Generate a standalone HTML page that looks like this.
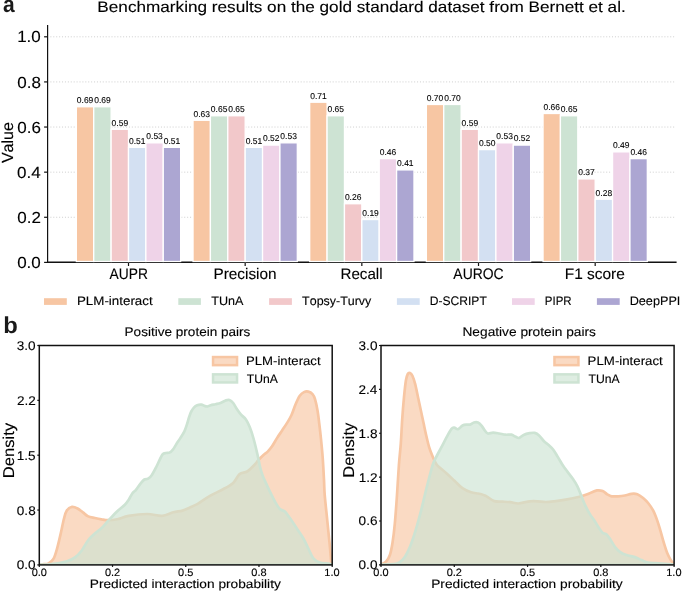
<!DOCTYPE html>
<html><head><meta charset="utf-8"><style>
html,body{margin:0;padding:0;background:#fff;width:685px;height:591px;overflow:hidden}
svg{display:block}
text{font-family:"Liberation Sans",sans-serif;font-kerning:none}
svg{will-change:transform;text-rendering:geometricPrecision}
</style></head><body>
<svg width="685" height="591" viewBox="0 0 685 591">
<defs><clipPath id="c1"><rect x="39.30" y="345.50" width="292.90" height="219.40"/></clipPath>
<clipPath id="c2"><rect x="381.00" y="345.50" width="293.10" height="219.40"/></clipPath></defs>
<rect width="685" height="591" fill="#fff"/>
<line x1="50.40" y1="217.28" x2="675.90" y2="217.28" stroke="#c9c9c9" stroke-width="0.9" stroke-dasharray="1 1.91"/>
<line x1="50.40" y1="172.16" x2="675.90" y2="172.16" stroke="#c9c9c9" stroke-width="0.9" stroke-dasharray="1 1.91"/>
<line x1="50.40" y1="127.04" x2="675.90" y2="127.04" stroke="#c9c9c9" stroke-width="0.9" stroke-dasharray="1 1.91"/>
<line x1="50.40" y1="81.92" x2="675.90" y2="81.92" stroke="#c9c9c9" stroke-width="0.9" stroke-dasharray="1 1.91"/>
<line x1="50.40" y1="36.80" x2="675.90" y2="36.80" stroke="#c9c9c9" stroke-width="0.9" stroke-dasharray="1 1.91"/>
<line x1="47.60" y1="25.10" x2="47.60" y2="263.00" stroke="#111" stroke-width="1.2"/>
<line x1="47.00" y1="262.20" x2="676.60" y2="262.20" stroke="#111" stroke-width="1.4"/>
<line x1="44.1" y1="262.40" x2="47.60" y2="262.40" stroke="#111" stroke-width="1.2"/>
<line x1="44.1" y1="217.28" x2="47.60" y2="217.28" stroke="#111" stroke-width="1.2"/>
<line x1="44.1" y1="172.16" x2="47.60" y2="172.16" stroke="#111" stroke-width="1.2"/>
<line x1="44.1" y1="127.04" x2="47.60" y2="127.04" stroke="#111" stroke-width="1.2"/>
<line x1="44.1" y1="81.92" x2="47.60" y2="81.92" stroke="#111" stroke-width="1.2"/>
<line x1="44.1" y1="36.80" x2="47.60" y2="36.80" stroke="#111" stroke-width="1.2"/>
<line x1="128.50" y1="262.40" x2="128.50" y2="266.00" stroke="#111" stroke-width="1.2"/>
<line x1="245.17" y1="262.40" x2="245.17" y2="266.00" stroke="#111" stroke-width="1.2"/>
<line x1="361.84" y1="262.40" x2="361.84" y2="266.00" stroke="#111" stroke-width="1.2"/>
<line x1="478.51" y1="262.40" x2="478.51" y2="266.00" stroke="#111" stroke-width="1.2"/>
<line x1="595.18" y1="262.40" x2="595.18" y2="266.00" stroke="#111" stroke-width="1.2"/>
<rect x="76.36" y="106.74" width="17.38" height="154.76" fill="#F7C6A3" stroke="#fff" stroke-width="1.3"/>
<rect x="93.74" y="106.74" width="17.38" height="154.76" fill="#CDE3D3" stroke="#fff" stroke-width="1.3"/>
<rect x="111.12" y="129.30" width="17.38" height="132.20" fill="#F2C8CA" stroke="#fff" stroke-width="1.3"/>
<rect x="128.50" y="147.34" width="17.38" height="114.16" fill="#D3E0F2" stroke="#fff" stroke-width="1.3"/>
<rect x="145.88" y="142.83" width="17.38" height="118.67" fill="#EFD3E8" stroke="#fff" stroke-width="1.3"/>
<rect x="163.26" y="147.34" width="17.38" height="114.16" fill="#ACA6D2" stroke="#fff" stroke-width="1.3"/>
<rect x="193.03" y="120.27" width="17.38" height="141.23" fill="#F7C6A3" stroke="#fff" stroke-width="1.3"/>
<rect x="210.41" y="115.76" width="17.38" height="145.74" fill="#CDE3D3" stroke="#fff" stroke-width="1.3"/>
<rect x="227.79" y="115.76" width="17.38" height="145.74" fill="#F2C8CA" stroke="#fff" stroke-width="1.3"/>
<rect x="245.17" y="147.34" width="17.38" height="114.16" fill="#D3E0F2" stroke="#fff" stroke-width="1.3"/>
<rect x="262.55" y="145.09" width="17.38" height="116.41" fill="#EFD3E8" stroke="#fff" stroke-width="1.3"/>
<rect x="279.93" y="142.83" width="17.38" height="118.67" fill="#ACA6D2" stroke="#fff" stroke-width="1.3"/>
<rect x="309.70" y="102.22" width="17.38" height="159.28" fill="#F7C6A3" stroke="#fff" stroke-width="1.3"/>
<rect x="327.08" y="115.76" width="17.38" height="145.74" fill="#CDE3D3" stroke="#fff" stroke-width="1.3"/>
<rect x="344.46" y="203.74" width="17.38" height="57.76" fill="#F2C8CA" stroke="#fff" stroke-width="1.3"/>
<rect x="361.84" y="219.54" width="17.38" height="41.96" fill="#D3E0F2" stroke="#fff" stroke-width="1.3"/>
<rect x="379.22" y="158.62" width="17.38" height="102.88" fill="#EFD3E8" stroke="#fff" stroke-width="1.3"/>
<rect x="396.60" y="169.90" width="17.38" height="91.60" fill="#ACA6D2" stroke="#fff" stroke-width="1.3"/>
<rect x="426.37" y="104.48" width="17.38" height="157.02" fill="#F7C6A3" stroke="#fff" stroke-width="1.3"/>
<rect x="443.75" y="104.48" width="17.38" height="157.02" fill="#CDE3D3" stroke="#fff" stroke-width="1.3"/>
<rect x="461.13" y="129.30" width="17.38" height="132.20" fill="#F2C8CA" stroke="#fff" stroke-width="1.3"/>
<rect x="478.51" y="149.60" width="17.38" height="111.90" fill="#D3E0F2" stroke="#fff" stroke-width="1.3"/>
<rect x="495.89" y="142.83" width="17.38" height="118.67" fill="#EFD3E8" stroke="#fff" stroke-width="1.3"/>
<rect x="513.27" y="145.09" width="17.38" height="116.41" fill="#ACA6D2" stroke="#fff" stroke-width="1.3"/>
<rect x="543.04" y="113.50" width="17.38" height="148.00" fill="#F7C6A3" stroke="#fff" stroke-width="1.3"/>
<rect x="560.42" y="115.76" width="17.38" height="145.74" fill="#CDE3D3" stroke="#fff" stroke-width="1.3"/>
<rect x="577.80" y="178.93" width="17.38" height="82.57" fill="#F2C8CA" stroke="#fff" stroke-width="1.3"/>
<rect x="595.18" y="199.23" width="17.38" height="62.27" fill="#D3E0F2" stroke="#fff" stroke-width="1.3"/>
<rect x="612.56" y="151.86" width="17.38" height="109.64" fill="#EFD3E8" stroke="#fff" stroke-width="1.3"/>
<rect x="629.94" y="158.62" width="17.38" height="102.88" fill="#ACA6D2" stroke="#fff" stroke-width="1.3"/>
<text x="76.82" y="103.14" font-size="8.50" font-weight="normal" fill="#000" stroke="#000" stroke-width="0.10" textLength="16.53" lengthAdjust="spacingAndGlyphs" >0.69</text>
<text x="94.20" y="103.14" font-size="8.50" font-weight="normal" fill="#000" stroke="#000" stroke-width="0.10" textLength="16.53" lengthAdjust="spacingAndGlyphs" >0.69</text>
<text x="111.58" y="125.70" font-size="8.50" font-weight="normal" fill="#000" stroke="#000" stroke-width="0.10" textLength="16.53" lengthAdjust="spacingAndGlyphs" >0.59</text>
<text x="128.96" y="143.74" font-size="8.50" font-weight="normal" fill="#000" stroke="#000" stroke-width="0.10" textLength="16.53" lengthAdjust="spacingAndGlyphs" >0.51</text>
<text x="146.32" y="139.23" font-size="8.50" font-weight="normal" fill="#000" stroke="#000" stroke-width="0.10" textLength="16.53" lengthAdjust="spacingAndGlyphs" >0.53</text>
<text x="163.72" y="143.74" font-size="8.50" font-weight="normal" fill="#000" stroke="#000" stroke-width="0.10" textLength="16.53" lengthAdjust="spacingAndGlyphs" >0.51</text>
<text x="193.47" y="116.67" font-size="8.50" font-weight="normal" fill="#000" stroke="#000" stroke-width="0.10" textLength="16.53" lengthAdjust="spacingAndGlyphs" >0.63</text>
<text x="210.85" y="112.16" font-size="8.50" font-weight="normal" fill="#000" stroke="#000" stroke-width="0.10" textLength="16.53" lengthAdjust="spacingAndGlyphs" >0.65</text>
<text x="228.23" y="112.16" font-size="8.50" font-weight="normal" fill="#000" stroke="#000" stroke-width="0.10" textLength="16.53" lengthAdjust="spacingAndGlyphs" >0.65</text>
<text x="245.63" y="143.74" font-size="8.50" font-weight="normal" fill="#000" stroke="#000" stroke-width="0.10" textLength="16.53" lengthAdjust="spacingAndGlyphs" >0.51</text>
<text x="263.02" y="141.49" font-size="8.50" font-weight="normal" fill="#000" stroke="#000" stroke-width="0.10" textLength="16.53" lengthAdjust="spacingAndGlyphs" >0.52</text>
<text x="280.37" y="139.23" font-size="8.50" font-weight="normal" fill="#000" stroke="#000" stroke-width="0.10" textLength="16.53" lengthAdjust="spacingAndGlyphs" >0.53</text>
<text x="310.16" y="98.62" font-size="8.50" font-weight="normal" fill="#000" stroke="#000" stroke-width="0.10" textLength="16.53" lengthAdjust="spacingAndGlyphs" >0.71</text>
<text x="327.52" y="112.16" font-size="8.50" font-weight="normal" fill="#000" stroke="#000" stroke-width="0.10" textLength="16.53" lengthAdjust="spacingAndGlyphs" >0.65</text>
<text x="344.90" y="200.14" font-size="8.50" font-weight="normal" fill="#000" stroke="#000" stroke-width="0.10" textLength="16.53" lengthAdjust="spacingAndGlyphs" >0.26</text>
<text x="362.30" y="215.94" font-size="8.50" font-weight="normal" fill="#000" stroke="#000" stroke-width="0.10" textLength="16.53" lengthAdjust="spacingAndGlyphs" >0.19</text>
<text x="379.66" y="155.02" font-size="8.50" font-weight="normal" fill="#000" stroke="#000" stroke-width="0.10" textLength="16.53" lengthAdjust="spacingAndGlyphs" >0.46</text>
<text x="397.06" y="166.30" font-size="8.50" font-weight="normal" fill="#000" stroke="#000" stroke-width="0.10" textLength="16.53" lengthAdjust="spacingAndGlyphs" >0.41</text>
<text x="426.79" y="100.88" font-size="8.50" font-weight="normal" fill="#000" stroke="#000" stroke-width="0.10" textLength="16.53" lengthAdjust="spacingAndGlyphs" >0.70</text>
<text x="444.17" y="100.88" font-size="8.50" font-weight="normal" fill="#000" stroke="#000" stroke-width="0.10" textLength="16.53" lengthAdjust="spacingAndGlyphs" >0.70</text>
<text x="461.59" y="125.70" font-size="8.50" font-weight="normal" fill="#000" stroke="#000" stroke-width="0.10" textLength="16.53" lengthAdjust="spacingAndGlyphs" >0.59</text>
<text x="478.93" y="146.00" font-size="8.50" font-weight="normal" fill="#000" stroke="#000" stroke-width="0.10" textLength="16.53" lengthAdjust="spacingAndGlyphs" >0.50</text>
<text x="496.33" y="139.23" font-size="8.50" font-weight="normal" fill="#000" stroke="#000" stroke-width="0.10" textLength="16.53" lengthAdjust="spacingAndGlyphs" >0.53</text>
<text x="513.74" y="141.49" font-size="8.50" font-weight="normal" fill="#000" stroke="#000" stroke-width="0.10" textLength="16.53" lengthAdjust="spacingAndGlyphs" >0.52</text>
<text x="543.48" y="109.90" font-size="8.50" font-weight="normal" fill="#000" stroke="#000" stroke-width="0.10" textLength="16.53" lengthAdjust="spacingAndGlyphs" >0.66</text>
<text x="560.86" y="112.16" font-size="8.50" font-weight="normal" fill="#000" stroke="#000" stroke-width="0.10" textLength="16.53" lengthAdjust="spacingAndGlyphs" >0.65</text>
<text x="578.27" y="175.33" font-size="8.50" font-weight="normal" fill="#000" stroke="#000" stroke-width="0.10" textLength="16.53" lengthAdjust="spacingAndGlyphs" >0.37</text>
<text x="595.62" y="195.63" font-size="8.50" font-weight="normal" fill="#000" stroke="#000" stroke-width="0.10" textLength="16.53" lengthAdjust="spacingAndGlyphs" >0.28</text>
<text x="613.02" y="148.26" font-size="8.50" font-weight="normal" fill="#000" stroke="#000" stroke-width="0.10" textLength="16.53" lengthAdjust="spacingAndGlyphs" >0.49</text>
<text x="630.38" y="155.02" font-size="8.50" font-weight="normal" fill="#000" stroke="#000" stroke-width="0.10" textLength="16.53" lengthAdjust="spacingAndGlyphs" >0.46</text>
<text x="17.15" y="268.00" font-size="16.10" font-weight="normal" fill="#000" stroke="#000" stroke-width="0.12" textLength="23.61" lengthAdjust="spacingAndGlyphs" >0.0</text>
<text x="17.34" y="222.88" font-size="16.10" font-weight="normal" fill="#000" stroke="#000" stroke-width="0.12" textLength="23.61" lengthAdjust="spacingAndGlyphs" >0.2</text>
<text x="16.99" y="177.76" font-size="16.10" font-weight="normal" fill="#000" stroke="#000" stroke-width="0.12" textLength="23.61" lengthAdjust="spacingAndGlyphs" >0.4</text>
<text x="17.24" y="132.64" font-size="16.10" font-weight="normal" fill="#000" stroke="#000" stroke-width="0.12" textLength="23.61" lengthAdjust="spacingAndGlyphs" >0.6</text>
<text x="17.23" y="87.52" font-size="16.10" font-weight="normal" fill="#000" stroke="#000" stroke-width="0.12" textLength="23.61" lengthAdjust="spacingAndGlyphs" >0.8</text>
<text x="17.15" y="42.40" font-size="16.10" font-weight="normal" fill="#000" stroke="#000" stroke-width="0.12" textLength="23.61" lengthAdjust="spacingAndGlyphs" >1.0</text>
<text transform="translate(13.00 163.07) rotate(-90)" x="0" y="0" font-size="16.10" font-weight="normal" fill="#000" stroke="#000" stroke-width="0.12" textLength="40.88" lengthAdjust="spacingAndGlyphs">Value</text>
<text x="109.57" y="279.40" font-size="15.30" font-weight="normal" fill="#000" stroke="#000" stroke-width="0.12" textLength="38.37" lengthAdjust="spacingAndGlyphs" >AUPR</text>
<text x="213.44" y="279.40" font-size="15.30" font-weight="normal" fill="#000" stroke="#000" stroke-width="0.12" textLength="63.16" lengthAdjust="spacingAndGlyphs" >Precision</text>
<text x="340.46" y="279.40" font-size="15.30" font-weight="normal" fill="#000" stroke="#000" stroke-width="0.12" textLength="42.16" lengthAdjust="spacingAndGlyphs" >Recall</text>
<text x="453.37" y="279.40" font-size="15.30" font-weight="normal" fill="#000" stroke="#000" stroke-width="0.12" textLength="50.26" lengthAdjust="spacingAndGlyphs" >AUROC</text>
<text x="564.73" y="279.40" font-size="15.30" font-weight="normal" fill="#000" stroke="#000" stroke-width="0.12" textLength="60.16" lengthAdjust="spacingAndGlyphs" >F1 score</text>
<text x="97.39" y="11.60" font-size="15.30" font-weight="normal" fill="#000" stroke="#000" stroke-width="0.12" textLength="528.37" lengthAdjust="spacingAndGlyphs" >Benchmarking results on the gold standard dataset from Bernett et al.</text>
<text x="2.88" y="12.30" font-size="23.00" font-weight="bold" fill="#1a1a1a" stroke="#1a1a1a" stroke-width="0.00" textLength="11.68" lengthAdjust="spacingAndGlyphs" >a</text>
<rect x="44.00" y="298.2" width="22.80" height="6.7" fill="#F7C6A3"/>
<text x="76.90" y="305.40" font-size="12.40" font-weight="normal" fill="#000" stroke="#000" stroke-width="0.12" textLength="75.79" lengthAdjust="spacingAndGlyphs" >PLM-interact</text>
<rect x="178.30" y="298.2" width="22.60" height="6.7" fill="#CDE3D3"/>
<text x="211.32" y="305.40" font-size="12.40" font-weight="normal" fill="#000" stroke="#000" stroke-width="0.12" textLength="32.21" lengthAdjust="spacingAndGlyphs" >TUnA</text>
<rect x="269.10" y="298.2" width="22.80" height="6.7" fill="#F2C8CA"/>
<text x="302.12" y="305.40" font-size="12.40" font-weight="normal" fill="#000" stroke="#000" stroke-width="0.12" textLength="69.20" lengthAdjust="spacingAndGlyphs" >Topsy-Turvy</text>
<rect x="396.90" y="298.2" width="22.80" height="6.7" fill="#D3E0F2"/>
<text x="429.81" y="305.40" font-size="12.40" font-weight="normal" fill="#000" stroke="#000" stroke-width="0.12" textLength="56.97" lengthAdjust="spacingAndGlyphs" >D-SCRIPT</text>
<rect x="512.00" y="298.2" width="22.70" height="6.7" fill="#EFD3E8"/>
<text x="544.86" y="305.40" font-size="12.40" font-weight="normal" fill="#000" stroke="#000" stroke-width="0.12" textLength="26.77" lengthAdjust="spacingAndGlyphs" >PIPR</text>
<rect x="596.90" y="298.2" width="22.80" height="6.7" fill="#ACA6D2"/>
<text x="629.66" y="305.40" font-size="12.40" font-weight="normal" fill="#000" stroke="#000" stroke-width="0.12" textLength="50.71" lengthAdjust="spacingAndGlyphs" >DeepPPI</text>
<text x="3.23" y="333.00" font-size="23.00" font-weight="bold" fill="#1a1a1a" stroke="#1a1a1a" stroke-width="0.00" textLength="14.55" lengthAdjust="spacingAndGlyphs" >b</text>
<path d="M39.30 564.60 C40.08 564.53 42.45 564.42 44.00 564.20 C45.55 563.98 47.00 564.23 48.60 563.30 C50.20 562.37 52.17 561.13 53.60 558.60 C55.03 556.07 56.02 552.27 57.20 548.10 C58.38 543.93 59.58 538.45 60.70 533.60 C61.82 528.75 62.88 522.85 63.90 519.00 C64.92 515.15 65.45 512.52 66.80 510.50 C68.15 508.48 70.20 507.23 72.00 506.90 C73.80 506.57 75.78 507.58 77.60 508.50 C79.42 509.42 81.13 511.08 82.90 512.40 C84.67 513.72 86.22 515.47 88.20 516.40 C90.18 517.33 92.60 517.52 94.80 518.00 C97.00 518.48 99.20 518.93 101.40 519.30 C103.60 519.67 105.37 520.20 108.00 520.20 C110.63 520.20 113.77 520.03 117.20 519.30 C120.63 518.57 123.60 516.68 128.60 515.80 C133.60 514.92 141.62 514.00 147.20 514.00 C152.78 514.00 157.75 516.08 162.10 515.80 C166.45 515.52 169.88 513.17 173.30 512.30 C176.72 511.43 179.82 511.42 182.60 510.60 C185.38 509.78 187.48 508.52 190.00 507.40 C192.52 506.28 194.30 505.87 197.70 503.90 C201.10 501.93 206.17 498.03 210.40 495.60 C214.63 493.17 219.30 491.42 223.10 489.30 C226.90 487.18 230.45 485.43 233.20 482.90 C235.95 480.37 237.27 476.00 239.60 474.10 C241.93 472.20 244.67 473.10 247.20 471.50 C249.73 469.90 252.93 466.40 254.80 464.50 C256.67 462.60 256.95 461.68 258.40 460.10 C259.85 458.52 261.95 456.42 263.50 455.00 C265.05 453.58 266.30 453.00 267.70 451.60 C269.10 450.20 270.35 448.85 271.90 446.60 C273.45 444.35 275.30 440.78 277.00 438.10 C278.70 435.42 280.42 433.03 282.10 430.50 C283.78 427.97 285.55 425.43 287.10 422.90 C288.65 420.37 289.98 418.40 291.40 415.30 C292.82 412.20 294.20 407.55 295.60 404.30 C297.00 401.05 298.40 397.83 299.80 395.80 C301.20 393.77 302.58 392.80 304.00 392.10 C305.42 391.40 306.88 391.27 308.30 391.60 C309.72 391.93 311.38 392.83 312.50 394.10 C313.62 395.37 314.15 396.38 315.00 399.20 C315.85 402.02 316.88 406.87 317.60 411.00 C318.32 415.13 318.73 419.30 319.30 424.00 C319.87 428.70 320.43 433.57 321.00 439.20 C321.57 444.83 322.20 451.00 322.70 457.80 C323.20 464.60 323.67 473.82 324.00 480.00 C324.33 486.18 324.17 488.27 324.70 494.90 C325.23 501.53 326.37 511.50 327.20 519.80 C328.03 528.10 329.02 537.50 329.70 544.70 C330.38 551.90 330.97 559.68 331.30 563.00 C331.63 566.32 331.63 564.33 331.70 564.60 L331.70 564.90 L39.30 564.90 Z" fill="#F7C6A3" fill-opacity="0.65" stroke="#F7C6A3" stroke-width="2.7" stroke-linejoin="round" clip-path="url(#c1)"/>
<path d="M39.30 564.60 C41.08 564.55 46.92 564.52 50.00 564.30 C53.08 564.08 54.97 563.80 57.80 563.30 C60.63 562.80 64.13 562.30 67.00 561.30 C69.87 560.30 72.57 559.07 75.00 557.30 C77.43 555.53 79.40 553.55 81.60 550.70 C83.80 547.85 86.00 543.05 88.20 540.20 C90.40 537.35 92.60 535.58 94.80 533.60 C97.00 531.62 99.20 530.40 101.40 528.30 C103.60 526.20 105.35 523.85 108.00 521.00 C110.65 518.15 114.48 513.92 117.30 511.20 C120.12 508.48 123.02 506.57 124.90 504.70 C126.78 502.83 127.37 501.87 128.60 500.00 C129.83 498.13 131.07 495.20 132.30 493.50 C133.53 491.80 134.60 491.50 136.00 489.80 C137.40 488.10 139.30 485.02 140.70 483.30 C142.10 481.58 143.17 480.28 144.40 479.50 C145.63 478.72 146.85 479.37 148.10 478.60 C149.35 477.83 150.50 476.92 151.90 474.90 C153.30 472.88 155.15 469.13 156.50 466.50 C157.85 463.87 158.97 461.13 160.00 459.10 C161.03 457.07 161.68 455.32 162.70 454.30 C163.72 453.28 164.97 453.28 166.10 453.00 C167.23 452.72 168.37 453.17 169.50 452.60 C170.63 452.03 171.77 451.00 172.90 449.60 C174.03 448.20 175.07 446.12 176.30 444.20 C177.53 442.28 178.95 440.25 180.30 438.10 C181.65 435.95 183.27 433.67 184.40 431.30 C185.53 428.93 186.32 426.27 187.10 423.90 C187.88 421.53 188.42 419.13 189.10 417.10 C189.78 415.07 190.40 413.28 191.20 411.70 C192.00 410.12 192.90 408.68 193.90 407.60 C194.90 406.52 195.97 405.70 197.20 405.20 C198.43 404.70 200.05 404.47 201.30 404.60 C202.55 404.73 203.68 405.68 204.70 406.00 C205.72 406.32 206.38 406.63 207.40 406.50 C208.42 406.37 209.45 405.58 210.80 405.20 C212.15 404.82 213.88 404.57 215.50 404.20 C217.12 403.83 218.82 403.62 220.50 403.00 C222.18 402.38 224.12 401.00 225.60 400.50 C227.08 400.00 228.13 399.58 229.40 400.00 C230.67 400.42 231.93 401.45 233.20 403.00 C234.47 404.55 235.73 407.40 237.00 409.30 C238.27 411.20 239.32 412.70 240.80 414.40 C242.28 416.10 244.42 417.38 245.90 419.50 C247.38 421.62 248.43 423.93 249.70 427.10 C250.97 430.27 252.23 434.05 253.50 438.50 C254.77 442.95 256.17 448.88 257.30 453.80 C258.43 458.72 259.38 464.30 260.30 468.00 C261.22 471.70 262.02 473.83 262.80 476.00 C263.58 478.17 263.82 478.40 265.00 481.00 C266.18 483.60 268.25 488.18 269.90 491.60 C271.55 495.02 273.23 498.60 274.90 501.50 C276.57 504.40 278.23 507.33 279.90 509.00 C281.57 510.67 283.23 509.98 284.90 511.50 C286.57 513.02 287.97 515.33 289.90 518.10 C291.83 520.87 294.30 524.78 296.50 528.10 C298.70 531.42 301.17 534.68 303.10 538.00 C305.03 541.32 306.43 544.67 308.10 548.00 C309.77 551.33 311.17 555.57 313.10 558.00 C315.03 560.43 317.22 561.68 319.70 562.60 C322.18 563.52 326.00 563.17 328.00 563.50 C330.00 563.83 331.08 564.42 331.70 564.60 L331.70 564.90 L39.30 564.90 Z" fill="#CDE3D3" fill-opacity="0.65" stroke="#CDE3D3" stroke-width="2.7" stroke-linejoin="round" clip-path="url(#c1)"/>
<rect x="39.30" y="345.50" width="292.90" height="219.40" fill="none" stroke="#111" stroke-width="1.5"/>
<line x1="37.30" y1="564.90" x2="39.30" y2="564.90" stroke="#111" stroke-width="1.2"/>
<text x="16.77" y="569.36" font-size="12.60" font-weight="normal" fill="#000" stroke="#000" stroke-width="0.12" textLength="18.87" lengthAdjust="spacingAndGlyphs" >0.0</text>
<line x1="37.30" y1="510.05" x2="39.30" y2="510.05" stroke="#111" stroke-width="1.2"/>
<text x="16.82" y="514.51" font-size="12.60" font-weight="normal" fill="#000" stroke="#000" stroke-width="0.12" textLength="18.87" lengthAdjust="spacingAndGlyphs" >0.8</text>
<line x1="37.30" y1="455.20" x2="39.30" y2="455.20" stroke="#111" stroke-width="1.2"/>
<text x="16.80" y="459.66" font-size="12.60" font-weight="normal" fill="#000" stroke="#000" stroke-width="0.12" textLength="18.87" lengthAdjust="spacingAndGlyphs" >1.5</text>
<line x1="37.30" y1="400.35" x2="39.30" y2="400.35" stroke="#111" stroke-width="1.2"/>
<text x="16.92" y="404.81" font-size="12.60" font-weight="normal" fill="#000" stroke="#000" stroke-width="0.12" textLength="18.87" lengthAdjust="spacingAndGlyphs" >2.2</text>
<line x1="37.30" y1="345.50" x2="39.30" y2="345.50" stroke="#111" stroke-width="1.2"/>
<text x="16.77" y="349.96" font-size="12.60" font-weight="normal" fill="#000" stroke="#000" stroke-width="0.12" textLength="18.87" lengthAdjust="spacingAndGlyphs" >3.0</text>
<line x1="39.30" y1="564.90" x2="39.30" y2="566.90" stroke="#111" stroke-width="1.2"/>
<text x="31.66" y="575.80" font-size="10.60" font-weight="normal" fill="#000" stroke="#000" stroke-width="0.12" textLength="15.28" lengthAdjust="spacingAndGlyphs" >0.0</text>
<line x1="112.52" y1="564.90" x2="112.52" y2="566.90" stroke="#111" stroke-width="1.2"/>
<text x="104.95" y="575.80" font-size="10.60" font-weight="normal" fill="#000" stroke="#000" stroke-width="0.12" textLength="15.28" lengthAdjust="spacingAndGlyphs" >0.2</text>
<line x1="185.75" y1="564.90" x2="185.75" y2="566.90" stroke="#111" stroke-width="1.2"/>
<text x="178.12" y="575.80" font-size="10.60" font-weight="normal" fill="#000" stroke="#000" stroke-width="0.12" textLength="15.28" lengthAdjust="spacingAndGlyphs" >0.5</text>
<line x1="258.97" y1="564.90" x2="258.97" y2="566.90" stroke="#111" stroke-width="1.2"/>
<text x="251.36" y="575.80" font-size="10.60" font-weight="normal" fill="#000" stroke="#000" stroke-width="0.12" textLength="15.28" lengthAdjust="spacingAndGlyphs" >0.8</text>
<line x1="332.20" y1="564.90" x2="332.20" y2="566.90" stroke="#111" stroke-width="1.2"/>
<text x="324.35" y="575.80" font-size="10.60" font-weight="normal" fill="#000" stroke="#000" stroke-width="0.12" textLength="15.28" lengthAdjust="spacingAndGlyphs" >1.0</text>
<text x="124.59" y="336.00" font-size="12.50" font-weight="normal" fill="#000" stroke="#000" stroke-width="0.12" textLength="125.80" lengthAdjust="spacingAndGlyphs" >Positive protein pairs</text>
<text transform="translate(14.40 478.16) rotate(-90)" x="0" y="0" font-size="15.70" font-weight="normal" fill="#000" stroke="#000" stroke-width="0.12" textLength="55.19" lengthAdjust="spacingAndGlyphs">Density</text>
<text x="89.78" y="588.20" font-size="12.10" font-weight="normal" fill="#000" stroke="#000" stroke-width="0.12" textLength="191.05" lengthAdjust="spacingAndGlyphs" >Predicted interaction probability</text>
<rect x="213.05" y="357.05" width="24.00" height="8.10" fill="#F7C6A3" fill-opacity="0.65" stroke="#F7C6A3" stroke-width="2.5"/>
<rect x="213.05" y="374.35" width="24.00" height="8.10" fill="#CDE3D3" fill-opacity="0.65" stroke="#CDE3D3" stroke-width="2.5"/>
<text x="246.02" y="365.30" font-size="12.30" font-weight="normal" fill="#000" stroke="#000" stroke-width="0.12" textLength="74.58" lengthAdjust="spacingAndGlyphs" >PLM-interact</text>
<text x="246.83" y="383.00" font-size="12.30" font-weight="normal" fill="#000" stroke="#000" stroke-width="0.12" textLength="31.00" lengthAdjust="spacingAndGlyphs" >TUnA</text>
<path d="M380.70 564.60 C380.87 564.52 380.78 564.63 381.70 564.10 C382.62 563.57 384.83 562.92 386.20 561.40 C387.57 559.88 388.83 558.20 389.90 555.00 C390.97 551.80 391.78 547.38 392.60 542.20 C393.42 537.02 394.08 531.52 394.80 523.90 C395.52 516.28 396.22 506.32 396.90 496.50 C397.58 486.68 398.25 473.80 398.90 465.00 C399.55 456.20 400.25 451.28 400.80 443.70 C401.35 436.12 401.67 427.25 402.20 419.50 C402.73 411.75 403.38 403.70 404.00 397.20 C404.62 390.70 405.27 384.37 405.90 380.50 C406.53 376.63 407.12 375.25 407.80 374.00 C408.48 372.75 409.23 372.70 410.00 373.00 C410.77 373.30 411.53 373.93 412.40 375.80 C413.27 377.67 414.27 380.63 415.20 384.20 C416.13 387.77 417.07 392.87 418.00 397.20 C418.93 401.53 419.87 405.85 420.80 410.20 C421.73 414.55 422.67 418.95 423.60 423.30 C424.53 427.65 425.47 432.28 426.40 436.30 C427.33 440.32 428.27 444.30 429.20 447.40 C430.13 450.50 431.08 452.63 432.00 454.90 C432.92 457.17 433.78 459.22 434.70 461.00 C435.62 462.78 435.60 463.60 437.50 465.60 C439.40 467.60 443.27 470.47 446.10 473.00 C448.93 475.53 451.78 478.27 454.50 480.80 C457.22 483.33 459.65 486.28 462.40 488.20 C465.15 490.12 468.42 491.42 471.00 492.30 C473.58 493.18 476.17 493.18 477.90 493.50 C479.63 493.82 480.13 493.82 481.40 494.20 C482.67 494.58 484.43 495.32 485.50 495.80 C486.57 496.28 486.35 496.22 487.80 497.10 C489.25 497.98 491.78 500.35 494.20 501.10 C496.62 501.85 499.62 501.42 502.30 501.60 C504.98 501.78 507.63 501.88 510.30 502.20 C512.97 502.52 515.62 503.55 518.30 503.50 C520.98 503.45 524.45 502.27 526.40 501.90 C528.35 501.53 528.17 501.40 530.00 501.30 C531.83 501.20 534.77 501.18 537.40 501.30 C540.03 501.42 543.00 502.00 545.80 502.00 C548.60 502.00 550.63 501.73 554.20 501.30 C557.77 500.87 563.17 500.12 567.20 499.40 C571.23 498.68 575.30 497.77 578.40 497.00 C581.50 496.23 583.63 495.55 585.80 494.80 C587.97 494.05 589.53 493.23 591.40 492.50 C593.27 491.77 595.13 490.65 597.00 490.40 C598.87 490.15 600.90 490.35 602.60 491.00 C604.30 491.65 605.70 493.42 607.20 494.30 C608.70 495.18 609.77 495.97 611.60 496.30 C613.43 496.63 615.98 496.43 618.20 496.30 C620.42 496.17 622.68 495.92 624.90 495.50 C627.12 495.08 629.43 494.02 631.50 493.80 C633.57 493.58 635.37 493.50 637.30 494.20 C639.23 494.90 641.30 496.53 643.10 498.00 C644.90 499.47 646.43 500.93 648.10 503.00 C649.77 505.07 651.58 507.50 653.10 510.40 C654.62 513.30 655.95 516.90 657.20 520.40 C658.45 523.90 659.48 527.63 660.60 531.40 C661.72 535.17 662.80 539.40 663.90 543.00 C665.00 546.60 666.10 550.23 667.20 553.00 C668.30 555.77 669.53 557.93 670.50 559.60 C671.47 561.27 672.47 562.17 673.00 563.00 C673.53 563.83 673.58 564.33 673.70 564.60 L673.70 564.90 L380.70 564.90 Z" fill="#F7C6A3" fill-opacity="0.65" stroke="#F7C6A3" stroke-width="2.7" stroke-linejoin="round" clip-path="url(#c2)"/>
<path d="M380.70 564.60 C382.92 564.53 390.87 564.58 394.00 564.20 C397.13 563.82 397.67 563.53 399.50 562.30 C401.33 561.07 403.18 559.55 405.00 556.80 C406.82 554.05 408.58 550.37 410.40 545.80 C412.22 541.23 414.07 535.48 415.90 529.40 C417.73 523.32 419.75 515.70 421.40 509.30 C423.05 502.90 424.37 496.78 425.80 491.00 C427.23 485.22 428.80 479.10 430.00 474.60 C431.20 470.10 432.05 466.77 433.00 464.00 C433.95 461.23 434.32 460.77 435.70 458.00 C437.08 455.23 439.45 450.92 441.30 447.40 C443.15 443.88 445.10 440.00 446.80 436.90 C448.50 433.80 450.25 430.35 451.50 428.80 C452.75 427.25 453.22 427.53 454.30 427.60 C455.38 427.67 456.62 429.55 458.00 429.20 C459.38 428.85 461.07 426.27 462.60 425.50 C464.13 424.73 465.93 424.75 467.20 424.60 C468.47 424.45 469.07 424.95 470.20 424.60 C471.33 424.25 472.72 422.85 474.00 422.50 C475.28 422.15 476.62 421.95 477.90 422.50 C479.18 423.05 480.57 424.48 481.70 425.80 C482.83 427.12 483.68 429.12 484.70 430.40 C485.72 431.68 486.40 433.12 487.80 433.50 C489.20 433.88 491.20 432.70 493.10 432.70 C495.00 432.70 497.17 433.17 499.20 433.50 C501.23 433.83 503.27 434.50 505.30 434.70 C507.33 434.90 509.75 434.40 511.40 434.70 C513.05 435.00 513.93 435.95 515.20 436.50 C516.47 437.05 517.60 438.25 519.00 438.00 C520.40 437.75 521.82 435.80 523.60 435.00 C525.38 434.20 527.85 433.55 529.70 433.20 C531.55 432.85 533.10 432.48 534.70 432.90 C536.30 433.32 537.75 434.30 539.30 435.70 C540.85 437.10 542.45 439.75 544.00 441.30 C545.55 442.85 547.05 443.60 548.60 445.00 C550.15 446.40 551.75 447.68 553.30 449.70 C554.85 451.72 556.35 454.57 557.90 457.10 C559.45 459.63 561.05 462.52 562.60 464.90 C564.15 467.28 565.50 469.08 567.20 471.40 C568.90 473.72 571.10 476.32 572.80 478.80 C574.50 481.28 576.00 483.50 577.40 486.30 C578.80 489.10 579.80 492.20 581.20 495.60 C582.60 499.00 584.25 503.45 585.80 506.70 C587.35 509.95 589.13 512.88 590.50 515.10 C591.87 517.32 592.70 518.03 594.00 520.00 C595.30 521.97 596.88 524.78 598.30 526.90 C599.72 529.02 601.12 531.45 602.50 532.70 C603.88 533.95 605.22 533.15 606.60 534.40 C607.98 535.65 609.42 538.13 610.80 540.20 C612.18 542.27 613.38 544.87 614.90 546.80 C616.42 548.73 617.97 550.42 619.90 551.80 C621.83 553.18 624.02 554.22 626.50 555.10 C628.98 555.98 632.30 556.27 634.80 557.10 C637.30 557.93 639.28 559.18 641.50 560.10 C643.72 561.02 645.33 562.07 648.10 562.60 C650.87 563.13 653.83 562.97 658.10 563.30 C662.37 563.63 671.10 564.38 673.70 564.60 L673.70 564.90 L380.70 564.90 Z" fill="#CDE3D3" fill-opacity="0.65" stroke="#CDE3D3" stroke-width="2.7" stroke-linejoin="round" clip-path="url(#c2)"/>
<rect x="381.00" y="345.50" width="293.10" height="219.40" fill="none" stroke="#111" stroke-width="1.5"/>
<line x1="379.00" y1="564.90" x2="381.00" y2="564.90" stroke="#111" stroke-width="1.2"/>
<text x="358.57" y="569.36" font-size="12.60" font-weight="normal" fill="#000" stroke="#000" stroke-width="0.12" textLength="18.87" lengthAdjust="spacingAndGlyphs" >0.0</text>
<line x1="379.00" y1="521.02" x2="381.00" y2="521.02" stroke="#111" stroke-width="1.2"/>
<text x="358.63" y="525.48" font-size="12.60" font-weight="normal" fill="#000" stroke="#000" stroke-width="0.12" textLength="18.87" lengthAdjust="spacingAndGlyphs" >0.6</text>
<line x1="379.00" y1="477.14" x2="381.00" y2="477.14" stroke="#111" stroke-width="1.2"/>
<text x="358.72" y="481.60" font-size="12.60" font-weight="normal" fill="#000" stroke="#000" stroke-width="0.12" textLength="18.87" lengthAdjust="spacingAndGlyphs" >1.2</text>
<line x1="379.00" y1="433.26" x2="381.00" y2="433.26" stroke="#111" stroke-width="1.2"/>
<text x="358.62" y="437.72" font-size="12.60" font-weight="normal" fill="#000" stroke="#000" stroke-width="0.12" textLength="18.87" lengthAdjust="spacingAndGlyphs" >1.8</text>
<line x1="379.00" y1="389.38" x2="381.00" y2="389.38" stroke="#111" stroke-width="1.2"/>
<text x="358.43" y="393.84" font-size="12.60" font-weight="normal" fill="#000" stroke="#000" stroke-width="0.12" textLength="18.87" lengthAdjust="spacingAndGlyphs" >2.4</text>
<line x1="379.00" y1="345.50" x2="381.00" y2="345.50" stroke="#111" stroke-width="1.2"/>
<text x="358.57" y="349.96" font-size="12.60" font-weight="normal" fill="#000" stroke="#000" stroke-width="0.12" textLength="18.87" lengthAdjust="spacingAndGlyphs" >3.0</text>
<line x1="381.00" y1="564.90" x2="381.00" y2="566.90" stroke="#111" stroke-width="1.2"/>
<text x="373.36" y="575.80" font-size="10.60" font-weight="normal" fill="#000" stroke="#000" stroke-width="0.12" textLength="15.28" lengthAdjust="spacingAndGlyphs" >0.0</text>
<line x1="454.27" y1="564.90" x2="454.27" y2="566.90" stroke="#111" stroke-width="1.2"/>
<text x="446.70" y="575.80" font-size="10.60" font-weight="normal" fill="#000" stroke="#000" stroke-width="0.12" textLength="15.28" lengthAdjust="spacingAndGlyphs" >0.2</text>
<line x1="527.55" y1="564.90" x2="527.55" y2="566.90" stroke="#111" stroke-width="1.2"/>
<text x="519.92" y="575.80" font-size="10.60" font-weight="normal" fill="#000" stroke="#000" stroke-width="0.12" textLength="15.28" lengthAdjust="spacingAndGlyphs" >0.5</text>
<line x1="600.83" y1="564.90" x2="600.83" y2="566.90" stroke="#111" stroke-width="1.2"/>
<text x="593.21" y="575.80" font-size="10.60" font-weight="normal" fill="#000" stroke="#000" stroke-width="0.12" textLength="15.28" lengthAdjust="spacingAndGlyphs" >0.8</text>
<line x1="674.10" y1="564.90" x2="674.10" y2="566.90" stroke="#111" stroke-width="1.2"/>
<text x="666.25" y="575.80" font-size="10.60" font-weight="normal" fill="#000" stroke="#000" stroke-width="0.12" textLength="15.28" lengthAdjust="spacingAndGlyphs" >1.0</text>
<text x="462.47" y="336.00" font-size="12.50" font-weight="normal" fill="#000" stroke="#000" stroke-width="0.12" textLength="133.42" lengthAdjust="spacingAndGlyphs" >Negative protein pairs</text>
<text transform="translate(354.00 477.75) rotate(-90)" x="0" y="0" font-size="15.70" font-weight="normal" fill="#000" stroke="#000" stroke-width="0.12" textLength="54.98" lengthAdjust="spacingAndGlyphs">Density</text>
<text x="431.17" y="588.20" font-size="12.10" font-weight="normal" fill="#000" stroke="#000" stroke-width="0.12" textLength="191.45" lengthAdjust="spacingAndGlyphs" >Predicted interaction probability</text>
<rect x="554.45" y="357.05" width="24.00" height="8.10" fill="#F7C6A3" fill-opacity="0.65" stroke="#F7C6A3" stroke-width="2.5"/>
<rect x="554.45" y="374.35" width="24.00" height="8.10" fill="#CDE3D3" fill-opacity="0.65" stroke="#CDE3D3" stroke-width="2.5"/>
<text x="587.61" y="365.30" font-size="12.30" font-weight="normal" fill="#000" stroke="#000" stroke-width="0.12" textLength="75.19" lengthAdjust="spacingAndGlyphs" >PLM-interact</text>
<text x="588.43" y="383.00" font-size="12.30" font-weight="normal" fill="#000" stroke="#000" stroke-width="0.12" textLength="31.20" lengthAdjust="spacingAndGlyphs" >TUnA</text>
</svg>
</body></html>
